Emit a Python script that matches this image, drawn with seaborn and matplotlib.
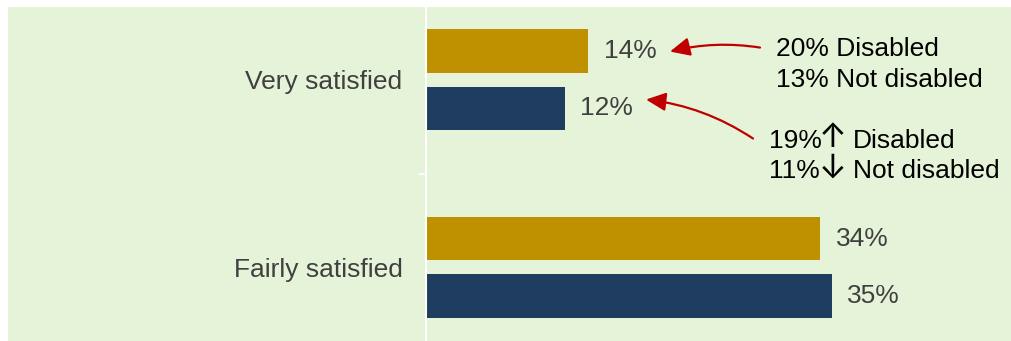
import matplotlib
matplotlib.use("Agg")
import matplotlib.pyplot as plt
from matplotlib.patches import Rectangle
import pandas as pd
import seaborn as sns

# Satisfaction levels and the share (%) answering each, for two survey waves
categories = ["Very satisfied", "Fairly satisfied"]
waves = ["Earlier wave", "Latest wave"]
earlier_pct = [14, 34]
latest_pct = [12, 35]

df = pd.DataFrame({
    "category": categories * 2,
    "wave": [waves[0]] * len(categories) + [waves[1]] * len(categories),
    "pct": earlier_pct + latest_pct,
})

GREEN = "#E5F3D8"
GOLD = "#BF9000"
NAVY = "#1F3E5F"
TEXT = "#404040"
RED = "#C00000"

sns.set_theme(style="white")
plt.rcParams["font.family"] = ["Liberation Sans", "DejaVu Sans"]

W, H = 1011, 341
fig = plt.figure(figsize=(W / 100, H / 100), dpi=100, facecolor="white")
# light green panel behind labels and bars
fig.patches.append(Rectangle((8 / W, 0), 1 - 8 / W, 1 - 7 / H,
                             transform=fig.transFigure, facecolor=GREEN,
                             edgecolor="none", zorder=-10))
ax = fig.add_axes([426 / W, 1 / H, 580 / W, 333 / H])
ax.set_zorder(5)
ax.set_facecolor("none")

sns.barplot(data=df, y="category", x="pct", hue="wave", orient="h",
            order=categories, hue_order=waves, palette=[GOLD, NAVY],
            saturation=1, width=0.607, gap=0.245, legend=False,
            edgecolor="none", linewidth=0, ax=ax)

for cont in ax.containers:
    ax.bar_label(cont, labels=[f"{v:.0f}%" for v in cont.datavalues],
                 padding=11, fontsize=19, color=TEXT)

ax.set_xlabel("")
ax.set_ylabel("")
ax.set_xticks([])
for side in ["top", "right", "bottom"]:
    ax.spines[side].set_visible(False)
ax.spines["left"].set_color("white")
ax.spines["left"].set_linewidth(1.5)
ax.tick_params(axis="y", which="major", length=0, pad=17, labelsize=19,
               labelcolor=TEXT)
# separator tick between the two categories
ax.set_yticks([0.5], minor=True)
ax.tick_params(axis="y", which="minor", length=6, width=1.2, color="white",
               left=True)
ax.set_xlim(0, 50)
ax.set_ylim(1.386, -0.386)

# subgroup notes with arrows pointing at the values they explain
def y_at(py):
    return (py - 80) / 188

def x_at(px):
    return (px - 426) / 11.6

note_kw = dict(fontsize=19, color="black", va="baseline", ha="left")
ax.text(x_at(776), y_at(56), "20% Disabled", **note_kw)
ax.text(x_at(776), y_at(87), "13% Not disabled", **note_kw)
for py, pct, arrow, label in [(148, "19%", "\u2191", "Disabled"),
                              (179, "11%", "\u2193", "Not disabled")]:
    ax.text(x_at(769), y_at(py), pct, **note_kw)
    ax.text(x_at(833), y_at(py - 9.5), arrow, fontsize=24, color="black",
            va="center", ha="center", family=["Inter", "DejaVu Sans"])
    ax.text(x_at(853), y_at(py), label, **note_kw)

arrow_kw = dict(arrowstyle="-|>,head_length=0.6,head_width=0.28",
                color=RED, lw=1.6, mutation_scale=20, shrinkA=0, shrinkB=0)
ax.annotate("", xy=(x_at(670), y_at(52)), xytext=(x_at(760), y_at(48)),
            arrowprops=dict(connectionstyle="arc3,rad=0.1", **arrow_kw))
ax.annotate("", xy=(x_at(646), y_at(100)), xytext=(x_at(753), y_at(139)),
            arrowprops=dict(connectionstyle="arc3,rad=0.12", **arrow_kw))

fig.savefig("out.png", dpi=100, facecolor="white")
